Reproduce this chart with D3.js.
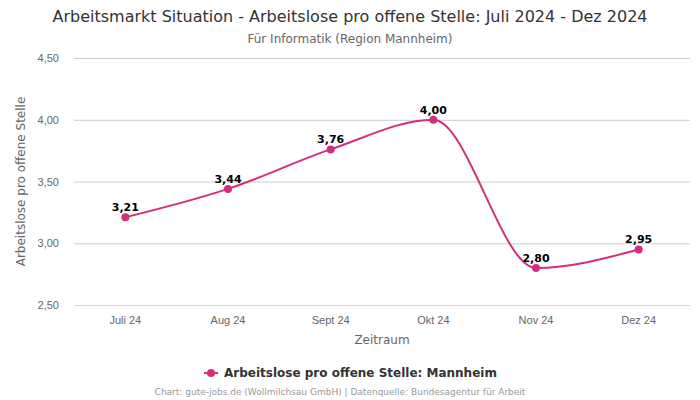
<!DOCTYPE html>
<html><head><meta charset="utf-8">
<script src="https://cdn.jsdelivr.net/npm/d3@7"></script>
<style>body{margin:0;background:#fff}svg{display:block;font-family:"DejaVu Sans",sans-serif}</style>
</head><body><svg id="c" width="700" height="400"></svg>
<script>
const categories = ["Juli 24","Aug 24","Sept 24","Okt 24","Nov 24","Dez 24"];
const values = [3.21,3.44,3.76,4.00,2.80,2.95];
const yTicks = [2.5,3.0,3.5,4.0,4.5];
const seriesName = "Arbeitslose pro offene Stelle: Mannheim";
const color = "#d42f7c";
const fmt = v => d3.format(".2f")(v).replace(".", ",");

(function(){
const svg = d3.select("#c");
const pl = 74, pr = 690, pt = 58, pb = 305;
const x = d3.scaleBand().domain(categories).range([pl, pr]);
const y = d3.scaleLinear().domain([2.5, 4.5]).range([pb, pt]);

svg.append("text").attr("x", 350).attr("y", 22).attr("text-anchor","middle")
  .attr("font-size", 15).attr("fill","#333").attr("textLength",595).attr("lengthAdjust","spacingAndGlyphs")
  .text("Arbeitsmarkt Situation - Arbeitslose pro offene Stelle: Juli 2024 - Dez 2024");
svg.append("text").attr("x", 350).attr("y", 43).attr("text-anchor","middle")
  .attr("font-size", 12).attr("fill","#666").attr("textLength",205).attr("lengthAdjust","spacingAndGlyphs")
  .text("Für Informatik (Region Mannheim)");

const yAxis = d3.axisLeft(y).tickValues(yTicks).tickSize(-(pr-pl)).tickPadding(15).tickFormat(fmt);
const gy = svg.append("g").attr("transform",`translate(${pl},0)`).call(yAxis);
gy.select(".domain").remove();
gy.selectAll(".tick line").attr("stroke",d => d === 2.5 ? "#ccd6eb" : "#ccc");
gy.selectAll(".tick text").attr("fill","#666").attr("font-size",11);

const xAxis = d3.axisBottom(x).tickSize(0).tickPadding(11);
const gx = svg.append("g").attr("transform",`translate(0,${pb})`).call(xAxis);
gx.select(".domain").remove();
gx.selectAll(".tick text").attr("fill","#666").attr("font-size",11);

svg.append("text").attr("x", (pl+pr)/2).attr("y", 344).attr("text-anchor","middle")
  .attr("font-size",12).attr("fill","#666").text("Zeitraum");
svg.append("text").attr("transform",`translate(25,${(pt+pb)/2}) rotate(-90)`).attr("text-anchor","middle")
  .attr("font-size",12).attr("fill","#666").text("Arbeitslose pro offene Stelle");

const cx = d => x(d) + x.bandwidth()/2;
const line = d3.line().x((d,i)=>cx(categories[i])).y(d=>y(d)).curve(d3.curveMonotoneX);
svg.append("path").datum(values).attr("d", line).attr("fill","none").attr("stroke",color).attr("stroke-width",2);
svg.selectAll("circle.p").data(values).join("circle").attr("class","p")
  .attr("cx",(d,i)=>cx(categories[i])).attr("cy",d=>y(d)).attr("r",4).attr("fill",color);
svg.selectAll("text.lbl").data(values).join("text").attr("class","lbl")
  .attr("x",(d,i)=>cx(categories[i])).attr("y",d=>y(d)-6).attr("text-anchor","middle")
  .attr("font-size",11).attr("font-weight","bold").attr("fill","#000").text(fmt);

const lg = svg.append("g");
lg.append("line").attr("x1",204).attr("x2",218).attr("y1",373).attr("y2",373).attr("stroke",color).attr("stroke-width",2);
lg.append("circle").attr("cx",211).attr("cy",373).attr("r",4).attr("fill",color);
lg.append("text").attr("x",224).attr("y",377).attr("font-size",12).attr("font-weight","bold").attr("fill","#333").text(seriesName);

svg.append("text").attr("x",340).attr("y",395).attr("text-anchor","middle").attr("font-size",9).attr("fill","#999")
  .text("Chart: gute-jobs.de (Wollmilchsau GmbH) | Datenquelle: Bundesagentur für Arbeit");
})();
</script></body></html>
